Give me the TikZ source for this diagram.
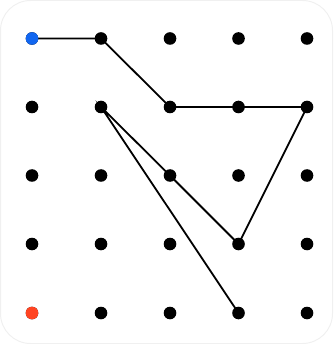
\documentclass[tikz,border=0pt]{standalone}
\definecolor{dotblue}{HTML}{1166F0}
\definecolor{dotred}{HTML}{FF4422}
\definecolor{frame}{HTML}{F0F0F0}
\tikzset{
  dot/.style={circle,fill=black,inner sep=0pt,minimum size=12.6pt},
  link/.style={line width=1.8pt,black}
}
\begin{document}
\begin{tikzpicture}[x=1pt,y=-1pt]
\useasboundingbox (0,0) rectangle (333,344);
\draw[frame,line width=1pt,rounded corners=30pt] (0.5,0.5) rectangle (332.5,343.5);
\foreach \i/\x in {0/32,1/101,2/170,3/238.5,4/307}{
  \foreach \j/\y in {0/38.5,1/107,2/175.5,3/244,4/313}{
    \coordinate (p\i\j) at (\x,\y);
  }
}
\draw[link] (p00) -- (p10) -- (p21) -- (p31) -- (p41) -- (p33) -- (p22) -- (p11) -- (p34);
\foreach \i in {0,...,4}{
  \foreach \j in {0,...,4}{
    \node[dot] (d\i\j) at (p\i\j) {};
  }
}
\node[dot,fill=dotblue] (start) at (p00) {};
\node[dot,fill=dotred] (end) at (p04) {};
\end{tikzpicture}
\end{document}
